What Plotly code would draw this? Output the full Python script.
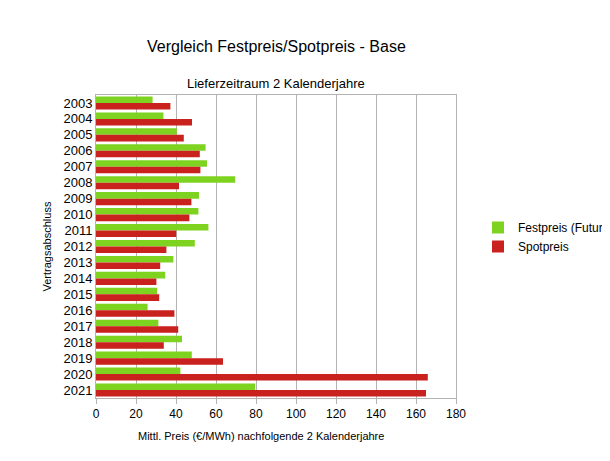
import plotly.graph_objects as go

# Daten
jahre = [str(j) for j in range(2003, 2022)]
festpreis = [28.3, 33.7, 40.4, 54.8, 55.5, 69.6, 51.5, 51.2, 56.2, 49.4,
             38.7, 34.6, 30.6, 25.8, 31.2, 43.0, 47.9, 42.2, 79.6]
spotpreis = [37.2, 48.0, 43.9, 51.9, 52.2, 41.5, 47.7, 46.7, 40.1, 35.2,
             32.1, 30.2, 31.6, 39.2, 41.1, 33.9, 63.5, 165.9, 165.0]

fig = go.Figure()
fig.add_trace(go.Bar(y=jahre, x=festpreis, orientation='h', name='Festpreis (Futures)',
                     marker=dict(color='#7ed321', line=dict(width=0))))
fig.add_trace(go.Bar(y=jahre, x=spotpreis, orientation='h', name='Spotpreis',
                     marker=dict(color='#c9211e', line=dict(width=0))))

# Plotbereich: x 88..448, y 87..390 (Pixel)
fig.update_layout(
    width=610, height=461,
    paper_bgcolor='white', plot_bgcolor='white',
    font=dict(family='Liberation Sans, Arial', color='black', size=12),
    margin=dict(l=88, r=162, t=87, b=71, autoexpand=False),
    barmode='group', bargap=0.18, bargroupgap=0,
    showlegend=True,
    legend=dict(xref='container', yref='container', x=470 / 610, y=1 - 229 / 461,
                xanchor='left', yanchor='middle', font=dict(size=12),
                itemwidth=30, tracegroupgap=2),
)
fig.add_annotation(text='Vergleich Festpreis/Spotpreis - Base', xref='paper', yref='paper',
                   x=(268 - 88) / 360, y=1 + (87 - 28) / 303, showarrow=False,
                   font=dict(size=16))
fig.add_annotation(text='Lieferzeitraum 2 Kalenderjahre', xref='paper', yref='paper',
                   x=(268 - 88) / 360, y=1 + (87 - 66) / 303, showarrow=False,
                   font=dict(size=13))
fig.add_annotation(text='Mittl. Preis (€/MWh) nachfolgende 2 Kalenderjahre', xref='paper',
                   yref='paper', x=(253 - 88) / 360, y=-(436 - 390) / 303, showarrow=False,
                   font=dict(size=11))
fig.add_annotation(text='Vertragsabschluss', xref='paper', yref='paper', textangle=-90,
                   x=-(88 - 30) / 360, y=0.5, showarrow=False, font=dict(size=11))

fig.update_xaxes(range=[0, 180], dtick=20, showgrid=True, gridcolor='#b3b3b3',
                 showline=True, linecolor='#b3b3b3', mirror=True, ticks='outside',
                 tickcolor='#b3b3b3', ticklen=5, zeroline=False, tickfont=dict(size=12))
fig.update_yaxes(autorange='reversed', type='category', tickmode='array', tickvals=jahre,
                 showline=True, linecolor='#b3b3b3', mirror=True,
                 ticks='', tickfont=dict(size=13), showgrid=False)

fig.write_html("out.html")
